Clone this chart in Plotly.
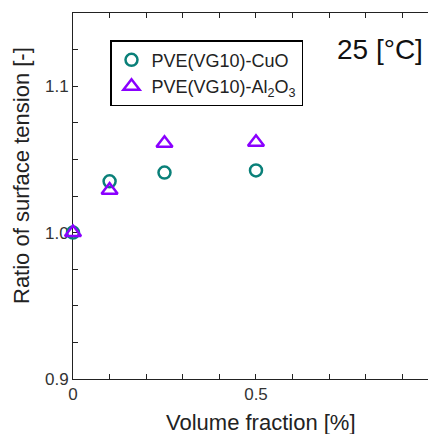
import plotly.graph_objects as go

x_cuo = [0, 0.1, 0.25, 0.5]
y_cuo = [1.0, 1.035, 1.041, 1.0425]
x_al = [0, 0.1, 0.25, 0.5]
y_al = [1.0, 1.029, 1.061, 1.0617]

name_cuo = "PVE(VG10)-CuO"
name_al = "PVE(VG10)-Al<sub>2</sub>O<sub>3</sub>"

FONT = "Liberation Sans, Arial, sans-serif"

fig = go.Figure()
fig.add_trace(go.Scatter(
    x=x_cuo, y=y_cuo, mode="markers", name=name_cuo, cliponaxis=False,
    marker=dict(symbol="circle-open", size=12, color="#0a8079", line=dict(width=2.5, color="#0a8079")),
))
fig.add_trace(go.Scatter(
    x=x_al, y=y_al, mode="markers", name=name_al, cliponaxis=False,
    marker=dict(symbol="triangle-up-open", size=14, color="#8a00ff", line=dict(width=2.5, color="#8a00ff")),
))

fig.update_layout(
    width=428, height=434,
    margin=dict(l=73, r=0, t=13, b=55),
    paper_bgcolor="white", plot_bgcolor="white",
    font=dict(family=FONT, color="#222"),
    showlegend=True,
    legend=dict(
        x=(110 - 73) / 355, y=0.926, xanchor="left", yanchor="top",
        bgcolor="white", bordercolor="black", borderwidth=1.5,
        font=dict(size=18, color="#222"),
        tracegroupgap=0, itemsizing="trace",
    ),
    xaxis=dict(
        range=[0, 0.97], showgrid=False, zeroline=False,
        showline=True, linecolor="#222", linewidth=1, mirror="allticks",
        ticks="inside", ticklen=5, tickcolor="#222",
        tickvals=[0, 0.5], ticktext=["0", "0.5"],
        minor=dict(dtick=0.1, tick0=0, ticks="inside", ticklen=5, tickcolor="#222", showgrid=False),
        tickfont=dict(size=17, color="#333"),
        layer="below traces",
    ),
    yaxis=dict(
        range=[0.9, 1.15], showgrid=False, zeroline=False,
        showline=True, linecolor="#222", linewidth=1, mirror=False,
        ticks="inside", ticklen=5, tickcolor="#222",
        tickvals=[0.9, 1.0, 1.1], ticktext=["0.9", "1.0", "1.1"],
        minor=dict(dtick=0.025, tick0=0.9, ticks="inside", ticklen=5, tickcolor="#222", showgrid=False),
        tickfont=dict(size=17, color="#333"),
        layer="below traces",
    ),
    annotations=[
        dict(text="25 [°C]", xref="paper", yref="paper", x=(425 - 73) / 355, y=0.9016,
             xanchor="right", yanchor="middle", showarrow=False,
             font=dict(size=28, color="#111")),
        dict(text="Volume fraction [%]", xref="paper", yref="paper", x=(261 - 73) / 355, y=-(423 - 379) / 366,
             xanchor="center", yanchor="middle", showarrow=False,
             font=dict(size=22, color="#222")),
        dict(text="Ratio of surface tension [-]", xref="paper", yref="paper", x=-(73 - 21) / 355, y=(379 - 176) / 366,
             xanchor="center", yanchor="middle", showarrow=False, textangle=-90,
             font=dict(size=22, color="#222")),
    ],
)

fig.write_html(
    "out.html",
    config={"displayModeBar": False},
    post_script="document.body.style.margin='0';document.body.style.overflow='hidden';",
)
